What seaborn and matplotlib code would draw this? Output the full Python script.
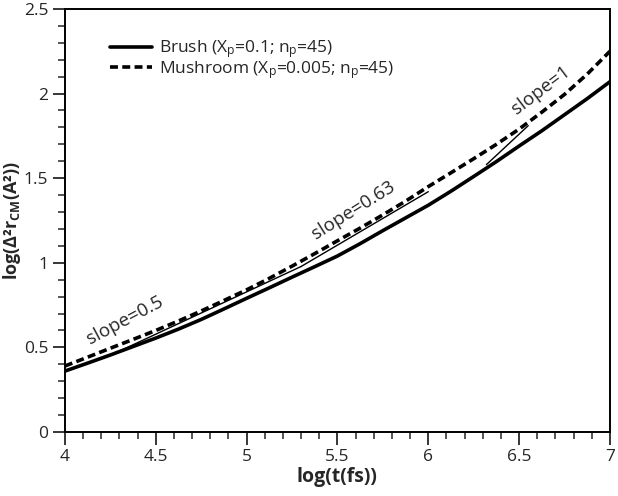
# MSD of centre of mass vs time, brush vs mushroom

import numpy as np
import pandas as pd
import matplotlib
matplotlib.use('Agg')
import matplotlib.pyplot as plt
import seaborn as sns
from matplotlib.ticker import MultipleLocator

log_t = [4.0, 4.125, 4.25, 4.375, 4.5, 4.625, 4.75, 4.875, 5.0, 5.125, 5.25, 5.375, 5.5,
         5.625, 5.75, 5.875, 6.0, 6.125, 6.25, 6.375, 6.5, 6.625, 6.75, 6.875, 7.0]
brush = [0.36, 0.407, 0.455, 0.505, 0.555, 0.608, 0.665, 0.727, 0.79, 0.852, 0.915, 0.977, 1.04,
         1.113, 1.19, 1.265, 1.34, 1.423, 1.51, 1.598, 1.69, 1.78, 1.875, 1.97, 2.07]
mushroom = [0.39, 0.442, 0.495, 0.547, 0.60, 0.656, 0.715, 0.777, 0.84, 0.908, 0.98, 1.054, 1.13,
            1.205, 1.283, 1.364, 1.45, 1.532, 1.615, 1.70, 1.79, 1.89, 1.995, 2.115, 2.25]

# guide lines (x0, x1), (y0, y1)
slope05_x = [4.25, 5.3]
slope05_y = [0.453, 0.978]
slope063_x = [5.3, 6.0]
slope063_y = [0.978, 1.42]
slope1_x = [6.32, 6.55]
slope1_y = [1.58, 1.81]

labels = ['Brush (X$_p$=0.1; n$_p$=45)', 'Mushroom (X$_p$=0.005; n$_p$=45)']

sns.set_style('ticks')
plt.rcParams['font.family'] = ['Open Sans', 'DejaVu Sans']
plt.rcParams['mathtext.fontset'] = 'custom'
plt.rcParams['mathtext.rm'] = 'Open Sans'
plt.rcParams['mathtext.it'] = 'Open Sans'
plt.rcParams['mathtext.bf'] = 'Open Sans:bold'
plt.rcParams['mathtext.default'] = 'regular'

df = pd.DataFrame({'x': log_t, 'brush': brush, 'mushroom': mushroom})

fig = plt.figure(figsize=(6.18, 4.96), dpi=100)
ax = fig.add_axes([0.105, 0.129, 0.882, 0.853])

sns.lineplot(data=df, x='x', y='brush', ax=ax, color='black', lw=2.6, label=labels[0])
sns.lineplot(data=df, x='x', y='mushroom', ax=ax, color='black', lw=2.6,
             linestyle=(0, (2.2, 1.2)), label=labels[1])

for xs, ys in [(slope05_x, slope05_y), (slope063_x, slope063_y), (slope1_x, slope1_y)]:
    ax.plot(xs, ys, color='black', lw=1.0)

ax.text(4.33, 0.66, 'slope=0.5', rotation=28, ha='center', va='center', fontsize=13.5)
ax.text(5.59, 1.31, 'slope=0.63', rotation=32, ha='center', va='center', fontsize=13.5)
ax.text(6.62, 2.02, 'slope=1', rotation=37, ha='center', va='center', fontsize=13.5)

ax.set_xlim(4, 7)
ax.set_ylim(0, 2.5)
ax.xaxis.set_minor_locator(MultipleLocator(0.1))
ax.yaxis.set_minor_locator(MultipleLocator(0.1))
ax.set_xticks([4, 4.5, 5, 5.5, 6, 6.5, 7])
ax.set_xticklabels(['4', '4.5', '5', '5.5', '6', '6.5', '7'])
ax.set_yticks([0, 0.5, 1, 1.5, 2, 2.5])
ax.set_yticklabels(['0', '0.5', '1', '1.5', '2', '2.5'])
ax.tick_params(which='major', direction='out', length=9, width=1.3, labelsize=12.5, pad=3)
ax.tick_params(which='minor', direction='out', length=5, width=1.1)
ax.tick_params(top=False, right=False)
for s in ax.spines.values():
    s.set_linewidth(1.4)
    s.set_color('black')

ax.set_xlabel('log(t(fs))', fontsize=14, fontweight='bold')
ax.set_ylabel(r'log($\Delta$²r$_{\mathbf{CM}}$(A²))', fontsize=13, fontweight='bold')
ax.xaxis.set_label_coords(0.5, -0.082)
ax.yaxis.set_label_coords(-0.076, 0.5)

ax.legend(loc='upper left', bbox_to_anchor=(0.083, 0.93), frameon=False, fontsize=12.5,
          handlelength=2.4, handletextpad=0.4, labelspacing=-0.1, borderpad=0, borderaxespad=0)

fig.savefig('out.png', dpi=100)
